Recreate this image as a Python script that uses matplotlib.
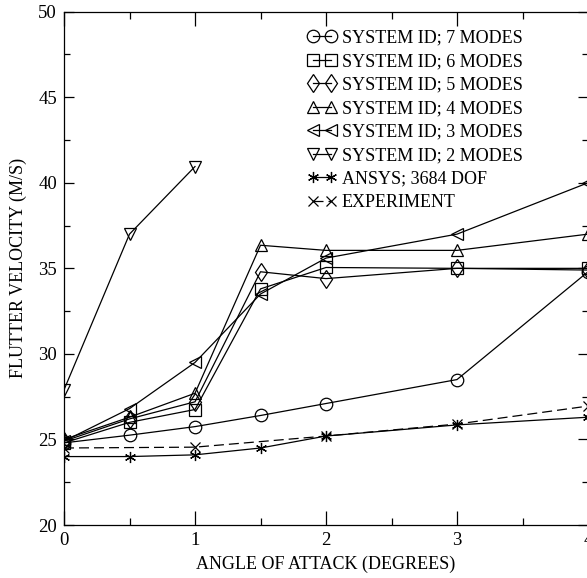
import matplotlib
matplotlib.use("Agg")
import matplotlib.pyplot as plt
from matplotlib.ticker import MultipleLocator

plt.rcParams['font.family'] = ['Liberation Serif', 'DejaVu Serif']

# angle of attack (degrees)
aoa = [0, 0.5, 1, 1.5, 2, 3, 4]
aoa_2modes = [0, 0.5, 1]
aoa_exp = [0, 1, 2, 3, 4]

# flutter velocity (m/s)
sid_7 = [24.8, 25.25, 25.75, 26.4, 27.1, 28.5, 34.8]
sid_6 = [24.8, 26.0, 26.75, 33.8, 35.05, 35.0, 35.0]
sid_5 = [24.9, 26.2, 27.2, 34.8, 34.4, 35.0, 34.9]
sid_4 = [25.0, 26.3, 27.7, 36.35, 36.05, 36.05, 37.0]
sid_3 = [24.9, 26.8, 29.5, 33.5, 35.6, 37.0, 40.0]
sid_2 = [27.9, 37.0, 40.95]
ansys = [24.0, 24.0, 24.1, 24.5, 25.2, 25.85, 26.3]
experiment = [24.5, 24.55, 25.2, 25.9, 26.95]

fig = plt.figure(figsize=(5.87, 5.78), dpi=100)
ax = fig.add_axes([64/587, 53/578, 524/587, 513.3/578])

mk = dict(color='black', lw=0.9, markersize=9, markerfacecolor='none',
          markeredgecolor='black', markeredgewidth=0.9)
ax.plot(aoa, sid_7, marker='o', label='SYSTEM ID; 7 MODES', **mk)
ax.plot(aoa, sid_6, marker='s', label='SYSTEM ID; 6 MODES',
        **{**mk, 'markersize': 8.5})
ax.plot(aoa, sid_5, marker='d', label='SYSTEM ID; 5 MODES',
        **{**mk, 'markersize': 9.5})
ax.plot(aoa, sid_4, marker='^', label='SYSTEM ID; 4 MODES', **mk)
ax.plot(aoa, sid_3, marker='<', label='SYSTEM ID; 3 MODES', **mk)
ax.plot(aoa_2modes, sid_2, marker='v', label='SYSTEM ID; 2 MODES', **mk)
ax.plot(aoa, ansys, marker=(6, 2, 0), label='ANSYS; 3684 DOF',
        **{**mk, 'markersize': 8})
ax.plot(aoa_exp, experiment, marker='x', ls=(0, (8, 4)), label='EXPERIMENT',
        **{**mk, 'markersize': 7})

ax.set_xlim(0, 4)
ax.set_ylim(20, 50)
ax.xaxis.set_major_locator(MultipleLocator(1))
ax.xaxis.set_minor_locator(MultipleLocator(0.5))
ax.yaxis.set_major_locator(MultipleLocator(5))
ax.yaxis.set_minor_locator(MultipleLocator(2.5))
ax.tick_params(which='both', direction='in', top=True, right=True,
               labelsize=13.5, width=0.9, pad=5)
ax.tick_params(axis='x', which='major', length=10)
ax.tick_params(axis='x', which='minor', length=5)
ax.tick_params(axis='y', which='major', length=7)
ax.tick_params(axis='y', which='minor', length=4)
for s in ax.spines.values():
    s.set_linewidth(0.9)

ax.set_xlabel('ANGLE OF ATTACK (DEGREES)', fontsize=13, labelpad=5)
ax.set_ylabel('FLUTTER VELOCITY (M/S)', fontsize=13, labelpad=8)

leg = ax.legend(loc='upper left', bbox_to_anchor=(0.44, 0.99), frameon=False,
                fontsize=13, handlelength=1.6, handletextpad=0.3,
                labelspacing=0.36, borderpad=0.2, numpoints=2)

fig.savefig('out.png', dpi=100)
